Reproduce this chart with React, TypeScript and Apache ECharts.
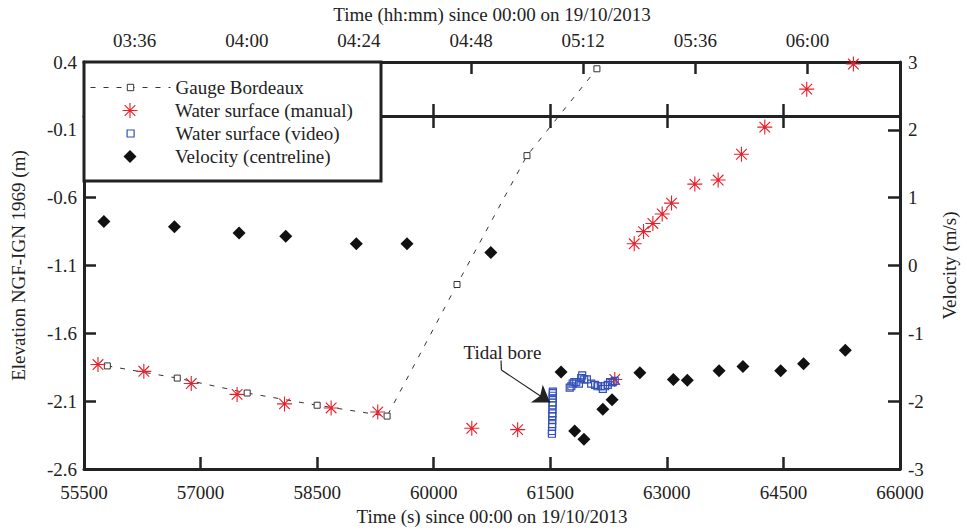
import React, { useEffect, useRef } from "react";
import * as echarts from "echarts";

// ---- data ----
const gaugeTime = [55800, 56700, 57600, 58500, 59400, 60300, 61200, 62100, 63000];
const gaugeElev = [-1.84, -1.93, -2.04, -2.13, -2.21, -1.24, -0.29, 0.35, 1.0];

const manualTime = [55680, 56270, 56880, 57470, 58080, 58680, 59280, 60490, 61080, 62330,
  62580, 62700, 62820, 62940, 63060, 63360, 63660, 63960, 64260, 64800, 65400];
const manualElev = [-1.83, -1.88, -1.97, -2.05, -2.12, -2.15, -2.18, -2.30, -2.31, -1.94,
  -0.94, -0.85, -0.79, -0.72, -0.64, -0.50, -0.47, -0.28, -0.08, 0.20, 0.385];

const videoTime = [61521, 61522, 61523, 61524, 61525, 61526, 61527, 61528, 61529, 61530,
  61531, 61532, 61533, 61534,
  61750, 61771, 61788, 61809, 61834, 61869, 61898, 61911, 61937, 61971,
  62026, 62077, 62107, 62150, 62176, 62205, 62240, 62269, 62304, 62329];
const videoElev = [-2.34, -2.32, -2.29, -2.27, -2.24, -2.21, -2.19, -2.16, -2.13, -2.11,
  -2.08, -2.06, -2.04, -2.03,
  -2.00, -1.99, -1.97, -1.96, -1.96, -1.97, -1.93, -1.91, -1.94, -1.94,
  -1.97, -1.98, -1.99, -1.99, -2.01, -1.99, -1.98, -1.96, -1.96, -1.95];

const velTime = [55756, 56664, 57495, 58096, 59004, 59656, 60735, 61639, 61814, 61933,
  62176, 62295, 62653, 63084, 63263, 63672, 63979, 64465, 64759, 65296];
const velValue = [0.65, 0.57, 0.48, 0.43, 0.32, 0.32, 0.19, -1.57, -2.44, -2.56,
  -2.12, -1.98, -1.58, -1.68, -1.69, -1.55, -1.49, -1.55, -1.45, -1.25];

const elevTicks = [-2.6, -2.1, -1.6, -1.1, -0.6, -0.1, 0.4];
const clockTicks = [216, 240, 264, 288, 312, 336, 360]; // minutes since 00:00

const boreLabel = { time: 60884, elev: -1.742, text: "Tidal bore" };
const boreArrow = [
  [60866, -1.80],
  [60871, -1.87],
  [61498, -2.11],
];

const FONT = "Liberation Serif";
const INK = "#222";
const ASTERISK =
  "path://M9.25 0H10.75V20H9.25Z M0 9.25H20V10.75H0Z M2.4 3.46L3.46 2.4L17.6 16.54L16.54 17.6Z M16.54 2.4L17.6 3.46L3.46 17.6L2.4 16.54Z";
const SQUARE = "path://M0 0H10V10H0Z";
const DIAMOND = "path://M5 0L10 5L5 10L0 5Z";

const zip = (a: number[], b: number[]) => a.map((v, i) => [v, b[i]]);
const txt = { fontFamily: FONT, fontSize: 19, color: INK };

function hhmm(v: number) {
  const h = Math.floor(v / 60);
  const m = Math.round(v - h * 60);
  return String(h).padStart(2, "0") + ":" + String(m).padStart(2, "0");
}

const axisLine = { show: true, onZero: false, lineStyle: { color: INK, width: 3 } };
const tickStyle = { color: INK, width: 2.5 };

// legend layout: icon slot starts at x=90 and is 80 wide; text starts at 175
const LEG_X = 90;
const LEG_W = 80;
const legLeft = (h: number) => LEG_X + (LEG_W - h) / 2;

export default function App() {
  const ref = useRef<HTMLDivElement>(null);
  useEffect(() => {
    const chart = echarts.init(ref.current!, null, { renderer: "svg" });
    const legendBase = {
      itemWidth: LEG_W,
      padding: 0,
      selectedMode: false,
      orient: "vertical",
      textStyle: { ...txt },
      z: 5,
    };
    chart.setOption({
      animation: false,
      backgroundColor: "#fff",
      grid: { left: 84, right: 62, top: 62, bottom: 60, containLabel: false },
      xAxis: [
        {
          type: "value",
          position: "bottom",
          min: 55500,
          max: 66000,
          interval: 1500,
          name: "Time (s) since 00:00 on 19/10/2013",
          nameLocation: "middle",
          nameGap: 38,
          nameTextStyle: { ...txt },
          axisLine,
          axisTick: { show: true, inside: true, length: 12, lineStyle: tickStyle },
          axisLabel: { ...txt, margin: 14, formatter: (v: number) => String(v) },
          splitLine: { show: false },
        },
        {
          type: "value",
          position: "top",
          min: 205.15,
          max: 379.8,
          name: "Time (hh:mm) since 00:00 on 19/10/2013",
          nameLocation: "middle",
          nameGap: 38,
          nameTextStyle: { ...txt },
          axisLine,
          axisTick: { show: true, inside: true, length: 12, customValues: clockTicks, lineStyle: tickStyle },
          axisLabel: { ...txt, margin: 12, customValues: clockTicks, formatter: (v: number) => hhmm(v) },
          splitLine: { show: false },
        },
        {
          // zero-elevation line with mirrored time ticks
          type: "value",
          position: "top",
          offset: -54,
          min: 55500,
          max: 66000,
          interval: 1500,
          axisLine,
          axisTick: { show: true, inside: true, length: 12, lineStyle: tickStyle },
          axisLabel: { show: false },
          splitLine: { show: false },
        },
        {
          type: "value",
          position: "top",
          offset: -54,
          min: 55500,
          max: 66000,
          interval: 1500,
          axisLine: { show: false, onZero: false },
          axisTick: { show: true, inside: false, length: 12, lineStyle: tickStyle },
          axisLabel: { show: false },
          splitLine: { show: false },
        },
      ],
      yAxis: [
        {
          type: "value",
          position: "left",
          min: -2.6,
          max: 0.4,
          name: "Elevation NGF-IGN 1969 (m)",
          nameLocation: "middle",
          nameGap: 56,
          nameRotate: 90,
          nameTextStyle: { ...txt },
          axisLine,
          axisTick: { show: true, inside: true, length: 12, customValues: elevTicks, lineStyle: tickStyle },
          axisLabel: { ...txt, margin: 7, customValues: elevTicks, formatter: (v: number) => v.toFixed(1) },
          splitLine: { show: false },
        },
        {
          type: "value",
          position: "right",
          min: -3,
          max: 3,
          interval: 1,
          name: "Velocity (m/s)",
          nameLocation: "middle",
          nameGap: 40,
          nameRotate: 90,
          nameTextStyle: { ...txt },
          axisLine,
          axisTick: { show: true, inside: true, length: 12, lineStyle: tickStyle },
          axisLabel: { ...txt, margin: 8 },
          splitLine: { show: false },
        },
      ],
      legend: [
        {
          ...legendBase,
          left: LEG_X,
          top: 78,
          itemHeight: 8,
          data: ["Gauge Bordeaux"],
          lineStyle: { width: 1, type: [5, 8], color: "#333" },
          itemStyle: { borderWidth: 1 },
        },
        {
          ...legendBase,
          left: legLeft(15),
          top: 101,
          itemHeight: 15,
          data: ["Water surface (manual)"],
        },
        {
          ...legendBase,
          left: legLeft(7),
          top: 124,
          itemHeight: 7,
          data: [{ name: "Water surface (video)", icon: SQUARE }],
          itemStyle: { borderWidth: 1.2 },
        },
        {
          ...legendBase,
          left: legLeft(13),
          top: 147,
          itemHeight: 13,
          data: [{ name: "Velocity (centreline)", icon: DIAMOND }],
        },
      ],
      graphic: [
        {
          type: "rect",
          z: 3,
          shape: { x: 84, y: 62, width: 297, height: 119 },
          style: { fill: "#fff", stroke: INK, lineWidth: 3 },
        },
      ],
      series: [
        {
          name: "Gauge Bordeaux",
          type: "line",
          xAxisIndex: 0,
          yAxisIndex: 0,
          data: zip(gaugeTime, gaugeElev),
          symbol: "rect",
          symbolSize: 6,
          showSymbol: true,
          clip: true,
          itemStyle: { color: "#fff", borderColor: "#333", borderWidth: 1 },
          lineStyle: { color: "#333", width: 1, type: [5, 8] },
          z: 2,
        },
        {
          name: "Water surface (manual)",
          type: "scatter",
          xAxisIndex: 0,
          yAxisIndex: 0,
          data: zip(manualTime, manualElev),
          symbol: ASTERISK,
          symbolSize: 15,
          itemStyle: { color: "#e8202a", opacity: 1 },
          z: 3,
        },
        {
          name: "Water surface (video)",
          type: "scatter",
          xAxisIndex: 0,
          yAxisIndex: 0,
          data: zip(videoTime, videoElev),
          symbol: "rect",
          symbolSize: 7,
          itemStyle: {
            color: "rgba(255,255,255,0)",
            borderColor: "#3350b8",
            borderWidth: 1.2,
            opacity: 1,
          },
          z: 3,
          markLine: {
            silent: true,
            symbolSize: 16,
            label: { show: false },
            lineStyle: { color: INK, width: 1.2, type: "solid" },
            data: [
              [
                { coord: boreArrow[0], symbol: "none" },
                { coord: boreArrow[1], symbol: "none" },
              ],
              [
                { coord: boreArrow[1], symbol: "none" },
                { coord: boreArrow[2], symbol: "arrow" },
              ],
            ],
          },
          markPoint: {
            silent: true,
            symbol: "rect",
            symbolSize: 1,
            itemStyle: { color: "rgba(0,0,0,0)" },
            label: { show: true, position: "inside", ...txt, formatter: boreLabel.text },
            data: [{ coord: [boreLabel.time, boreLabel.elev] }],
          },
        },
        {
          name: "Velocity (centreline)",
          type: "scatter",
          xAxisIndex: 0,
          yAxisIndex: 1,
          data: zip(velTime, velValue),
          symbol: "diamond",
          symbolSize: 13,
          itemStyle: { color: "#111", opacity: 1 },
          z: 3,
        },
      ],
    });
    return () => chart.dispose();
  }, []);
  return (
    <div
      ref={ref}
      style={{ position: "fixed", left: 0, top: 0, width: 967, height: 531, background: "#fff" }}
    />
  );
}
